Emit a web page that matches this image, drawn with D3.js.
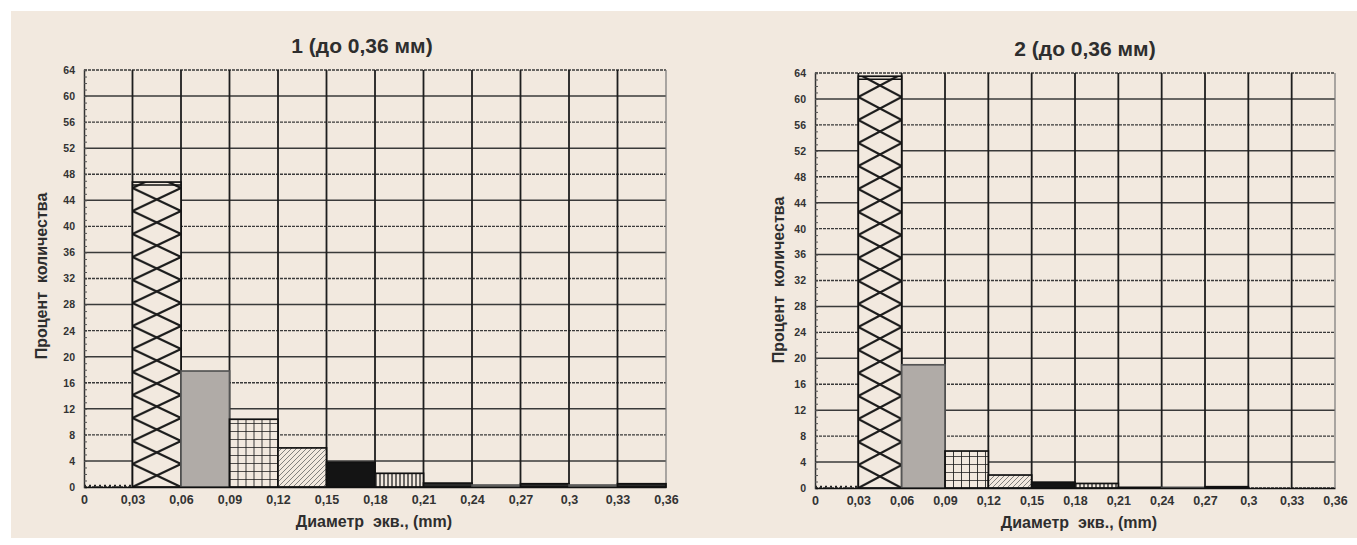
<!DOCTYPE html>
<html>
<head>
<meta charset="utf-8">
<script src="https://cdn.jsdelivr.net/npm/d3@7/dist/d3.min.js"></script>
<style>
  body { margin: 0; background: #ffffff; }
  svg { display: block; }
  text { font-family: "Liberation Sans", Arial, sans-serif; font-weight: bold; }
</style>
</head>
<body>
<svg id="chart" width="1357" height="545"></svg>
<script>
// bin edges on the x axis (mm) and their printed labels
const binEdges = [0, 0.03, 0.06, 0.09, 0.12, 0.15, 0.18, 0.21, 0.24, 0.27, 0.3, 0.33, 0.36];
const xTickLabels = ['0', '0,03', '0,06', '0,09', '0,12', '0,15', '0,18', '0,21', '0,24', '0,27', '0,3', '0,33', '0,36'];
const yTicks = [0, 4, 8, 12, 16, 20, 24, 28, 32, 36, 40, 44, 48, 52, 56, 60, 64];

// percent of particles in each bin
const sample1Values = [0.2, 46.8, 17.8, 10.4, 6.0, 3.8, 2.1, 0.6, 0.3, 0.5, 0.3, 0.5];
const sample2Values = [0.2, 63.5, 19.0, 5.7, 2.0, 0.9, 0.7, 0.1, 0.1, 0.2, 0, 0];

// fill style of each bin
const binPatterns = ['dots', 'cross', 'gray', 'grid', 'diag', 'black', 'vlines', 'dark', 'gray', 'dark', 'gray', 'dark'];

const chartTitles = ['1 (до 0,36 мм)', '2 (до 0,36 мм)'];
const xAxisTitle = 'Диаметр  экв., (mm)';
const yAxisTitle = 'Процент  количества';

const paper = '#f2e9df';
const svg = d3.select('#chart');

// beige panel behind both charts
svg.append('rect')
  .attr('x', 11).attr('y', 11)
  .attr('width', 1346).attr('height', 527)
  .attr('fill', paper);

const defs = svg.append('defs');

function drawPanel(id, values, title, box) {
  const x = d3.scaleLinear().domain([0, 0.36]).range([box.left, box.right]);
  const y = d3.scaleLinear().domain([0, 64]).range([box.bottom, box.top]);
  const bw = x(0.03) - x(0);
  const g = svg.append('g');

  // patterns for this panel (cross one depends on bin width)
  const cross = defs.append('pattern')
    .attr('id', `cross-${id}`)
    .attr('patternUnits', 'userSpaceOnUse')
    .attr('x', x(0.03)).attr('y', box.bottom)
    .attr('width', bw).attr('height', 23);
  cross.append('rect').attr('width', bw).attr('height', 23).attr('fill', paper);
  cross.append('path')
    .attr('d', `M0,0L${bw},23M${bw},0L0,23`)
    .attr('stroke', '#1c1c1c').attr('stroke-width', 2.2);

  const grid = defs.append('pattern')
    .attr('id', `grid-${id}`)
    .attr('patternUnits', 'userSpaceOnUse')
    .attr('x', x(0.09)).attr('y', box.bottom)
    .attr('width', 8).attr('height', 8);
  grid.append('rect').attr('width', 8).attr('height', 8).attr('fill', paper);
  grid.append('path')
    .attr('d', 'M0,0V8M0,0H8')
    .attr('stroke', '#1a1a1a').attr('stroke-width', 1.7);

  const diag = defs.append('pattern')
    .attr('id', `diag-${id}`)
    .attr('patternUnits', 'userSpaceOnUse')
    .attr('width', 5).attr('height', 5);
  diag.append('rect').attr('width', 5).attr('height', 5).attr('fill', paper);
  diag.append('path')
    .attr('d', 'M-1,6L6,-1M-1,1L1,-1M4,6L6,4')
    .attr('stroke', '#666').attr('stroke-width', 0.8);

  const vlines = defs.append('pattern')
    .attr('id', `vlines-${id}`)
    .attr('patternUnits', 'userSpaceOnUse')
    .attr('x', x(0.18))
    .attr('width', 4).attr('height', 4);
  vlines.append('rect').attr('width', 4).attr('height', 4).attr('fill', paper);
  vlines.append('path')
    .attr('d', 'M1,0V4')
    .attr('stroke', '#222').attr('stroke-width', 1.3);

  const fills = {
    cross: `url(#cross-${id})`,
    grid: `url(#grid-${id})`,
    diag: `url(#diag-${id})`,
    vlines: `url(#vlines-${id})`,
    gray: '#b0aba7',
    black: '#141414',
    dark: '#2a2a2a',
    dots: 'none'
  };

  // horizontal grid lines
  g.append('g')
    .selectAll('line')
    .data(yTicks)
    .join('line')
    .attr('x1', box.left).attr('x2', box.right)
    .attr('y1', (d) => y(d)).attr('y2', (d) => y(d))
    .attr('stroke', '#3a3a3a')
    .attr('stroke-width', 1.4)
    .attr('stroke-dasharray', (d) => (d % 8 === 0 ? '3,1' : null));

  // vertical grid lines at bin edges
  g.append('g')
    .selectAll('line')
    .data(binEdges.slice(1))
    .join('line')
    .attr('x1', (d) => x(d)).attr('x2', (d) => x(d))
    .attr('y1', box.top).attr('y2', box.bottom)
    .attr('stroke', (d) => (d === 0.36 ? '#777' : '#1e1e1e'))
    .attr('stroke-width', (d) => (d === 0.36 ? 1.2 : 1.8));

  // bars
  const bins = values.map((v, i) => ({ x0: binEdges[i], x1: binEdges[i + 1], v, p: binPatterns[i] }));
  g.append('g')
    .selectAll('rect')
    .data(bins.filter((d) => d.v > 0 && d.p !== 'dots'))
    .join('rect')
    .attr('x', (d) => x(d.x0))
    .attr('y', (d) => y(d.v))
    .attr('width', (d) => x(d.x1) - x(d.x0))
    .attr('height', (d) => y(0) - y(d.v))
    .attr('fill', (d) => fills[d.p])
    .attr('stroke', (d) => (d.p === 'gray' ? '#555' : '#111'))
    .attr('stroke-width', 1.7);

  // first bin: just a dotted line near zero
  g.append('g')
    .selectAll('line')
    .data(bins.filter((d) => d.p === 'dots'))
    .join('line')
    .attr('x1', (d) => x(d.x0)).attr('x2', (d) => x(d.x1))
    .attr('y1', (d) => y(d.v)).attr('y2', (d) => y(d.v))
    .attr('stroke', '#222').attr('stroke-width', 2)
    .attr('stroke-dasharray', '2,3');

  // top line of the cross-hatched bar
  g.append('g')
    .selectAll('line')
    .data(bins.filter((d) => d.p === 'cross'))
    .join('line')
    .attr('x1', (d) => x(d.x0)).attr('x2', (d) => x(d.x1))
    .attr('y1', (d) => y(d.v) + 3).attr('y2', (d) => y(d.v) + 3)
    .attr('stroke', '#111').attr('stroke-width', 1.4);

  // y axis: minor ticks + line
  const yMinor = g.append('g')
    .attr('transform', `translate(${box.left},0)`)
    .call(d3.axisRight(y).tickValues(d3.range(0, 65, 1)).tickSize(3).tickFormat(''));
  yMinor.select('.domain').attr('stroke', '#333').attr('stroke-width', 1.5);
  yMinor.selectAll('.tick line').attr('stroke', '#555');

  // y axis labels
  const yAxis = g.append('g')
    .attr('transform', `translate(${box.left},0)`)
    .call(d3.axisLeft(y).tickValues(yTicks).tickSize(0).tickPadding(9));
  yAxis.select('.domain').remove();
  yAxis.selectAll('text')
    .attr('fill', '#333')
    .style('font-size', '10.5px')
    .style('font-family', '"Liberation Sans", Arial, sans-serif')
    .style('font-weight', 'bold');

  // x axis
  const xAxis = g.append('g')
    .attr('transform', `translate(0,${box.bottom})`)
    .call(d3.axisBottom(x).tickValues(binEdges).tickSize(0).tickPadding(8)
      .tickFormat((d, i) => xTickLabels[i]));
  xAxis.select('.domain').attr('stroke', '#111').attr('stroke-width', 1.7);
  xAxis.selectAll('text')
    .attr('fill', '#333')
    .style('font-size', '12.5px')
    .style('font-family', '"Liberation Sans", Arial, sans-serif')
    .style('font-weight', 'bold');

  // titles
  g.append('text')
    .attr('x', box.titleX).attr('y', box.titleY)
    .attr('text-anchor', 'middle')
    .attr('fill', '#2e2e2e')
    .style('font-size', '21px')
    .text(title);

  g.append('text')
    .attr('x', box.xTitleX).attr('y', box.xTitleY)
    .attr('text-anchor', 'middle')
    .attr('fill', '#2e2e2e')
    .style('font-size', '16px')
    .style('white-space', 'pre')
    .text(xAxisTitle);

  g.append('text')
    .attr('transform', `translate(${box.yTitleX},${box.yTitleY}) rotate(-90)`)
    .attr('text-anchor', 'middle')
    .attr('fill', '#2e2e2e')
    .style('font-size', '16px')
    .style('white-space', 'pre')
    .text(yAxisTitle);
}

drawPanel('a', sample1Values, chartTitles[0], {
  left: 84, right: 666, top: 70, bottom: 487,
  titleX: 362, titleY: 53, xTitleX: 374, xTitleY: 527, yTitleX: 47, yTitleY: 276
});

drawPanel('b', sample2Values, chartTitles[1], {
  left: 815, right: 1335, top: 73, bottom: 488,
  titleX: 1085, titleY: 56, xTitleX: 1079, xTitleY: 528, yTitleX: 784, yTitleY: 280
});
</script>
</body>
</html>
